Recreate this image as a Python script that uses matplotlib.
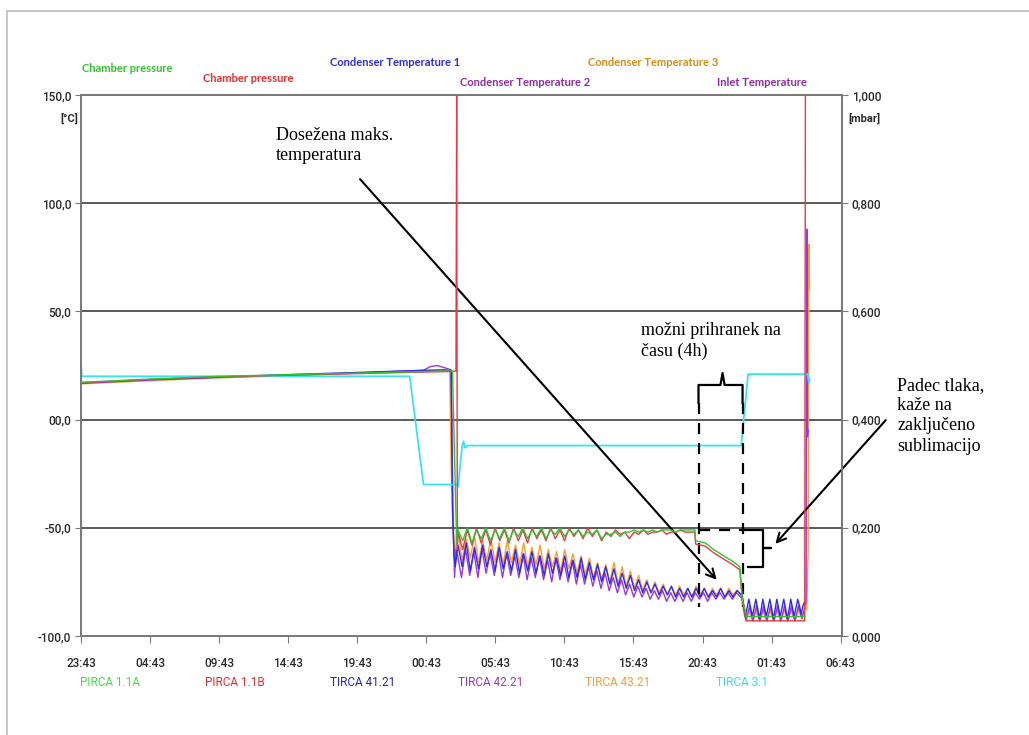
import numpy as np
import matplotlib
matplotlib.use("Agg")
import matplotlib.pyplot as plt
from matplotlib.lines import Line2D

# time axis: hours since 23:43 on day 1
tick_hours = [0, 5, 10, 15, 20, 25, 30, 35, 40, 45, 50, 55]
tick_labels = ["23:43", "04:43", "09:43", "14:43", "19:43", "00:43",
               "05:43", "10:43", "15:43", "20:43", "01:43", "06:43"]

# --- chamber pressure (mbar), right axis ---
red_a_t = [0, 5, 10, 15, 20, 25, 26.9, 27.15, 27.2, 27.25]
red_a_v = [0.468, 0.474, 0.479, 0.482, 0.485, 0.488, 0.489, 0.49, 1.0, 0.16]
red_b = [0.192, 0.160, 0.196, 0.168, 0.200, 0.172, 0.196, 0.168, 0.200, 0.176, 0.196, 0.172, 0.200,
         0.176, 0.196, 0.172, 0.200, 0.180, 0.196, 0.176, 0.200, 0.180, 0.196, 0.176, 0.200, 0.184,
         0.196, 0.180, 0.200, 0.184, 0.196, 0.176, 0.192, 0.184, 0.196, 0.188, 0.192, 0.180, 0.192,
         0.188, 0.196, 0.188, 0.192, 0.192, 0.196, 0.188, 0.192, 0.192, 0.196, 0.192, 0.192, 0.192]
red_c_t = [44.45, 44.5, 45.2, 45.8, 46.3, 46.8, 47.3, 47.7, 47.9, 48.2, 52.4, 52.45]
red_c_v = [0.190, 0.170, 0.166, 0.154, 0.146, 0.138, 0.130, 0.122, 0.060, 0.028, 0.028, 1.0]

green_a_t = [0, 5, 10, 15, 20, 25, 26.9, 27.2]
green_a_v = [0.469, 0.475, 0.480, 0.483, 0.486, 0.489, 0.490, 0.17]
green_b = [0.196, 0.176, 0.200, 0.172, 0.196, 0.180, 0.200, 0.176, 0.196, 0.180, 0.200, 0.176, 0.196,
           0.184, 0.200, 0.180, 0.196, 0.184, 0.200, 0.180, 0.196, 0.188, 0.200, 0.184, 0.196, 0.188,
           0.196, 0.184, 0.192, 0.188, 0.196, 0.180, 0.188, 0.188, 0.192, 0.184, 0.192, 0.192, 0.196,
           0.192, 0.196, 0.192, 0.196, 0.192, 0.196, 0.196, 0.196, 0.192, 0.196, 0.196, 0.196, 0.196]
green_c_t = [44.45, 44.5, 45.2, 45.8, 46.3, 46.8, 47.3, 47.7, 47.9, 48.2, 52.4]
green_c_v = [0.196, 0.176, 0.172, 0.160, 0.152, 0.144, 0.136, 0.128, 0.066, 0.036, 0.036]

# --- temperatures (deg C), left axis ---
blue_a_t = [0, 5, 10, 15, 20, 25, 26.3, 26.8, 26.9, 27.0, 27.1]
blue_a_v = [17, 18.5, 19.7, 20.8, 21.8, 22.8, 23, 22.5, -40, -62, -68]
blue_b = [-58, -68, -57, -70, -59, -69, -58, -68, -60, -70, -59, -69, -61, -70, -60, -71, -62, -70,
          -61, -71, -63, -72, -62, -71, -64, -72, -63, -73, -65, -73, -64, -74, -66, -74, -67, -75,
          -68, -76, -69, -77, -71, -78, -72, -79, -74, -80, -75, -80, -76, -81, -77, -81, -77, -82,
          -78, -82, -78, -82, -78, -82, -78, -82, -79, -82, -78, -82, -79, -82, -79, -81]
blue_c = [-80, -86, -91, -87, -83, -87, -91, -87, -83, -87, -92, -88, -83, -87, -91, -87, -83, -87,
          -92, -88, -83, -87, -91, -87, -83, -87, -92, -88, -83, -87, -91, -87, -83, -86, -90, -86, -84]

purple_a_t = [0, 5, 10, 15, 20, 24.8, 25.3, 25.8, 26.3, 26.8, 26.95, 27.05, 27.15]
purple_a_v = [16.8, 18.3, 19.5, 20.5, 21.5, 22.8, 24.5, 25, 24, 23, -50, -73, -60]
purple_b = [-62, -73, -60, -72, -61, -73, -60, -71, -62, -72, -61, -73, -62, -72, -63, -73, -62, -74,
            -64, -73, -63, -74, -65, -75, -64, -74, -66, -75, -65, -76, -67, -76, -68, -77, -70, -78,
            -71, -79, -73, -80, -74, -81, -76, -82, -77, -82, -78, -83, -79, -83, -79, -84, -80, -84,
            -80, -84, -80, -84, -80, -83, -80, -84, -80, -83, -80, -83, -80, -83, -80, -82]
purple_c = [-83, -88, -93, -90, -86, -90, -93, -90, -86, -90, -93, -90, -86, -90, -93, -90, -86, -90,
            -93, -90, -86, -90, -93, -90, -86, -90, -93, -90, -86, -90, -93, -90, -86, -89, -92, -89, -85]
purple_end_t = [52.5, 52.55, 52.6, 52.65]
purple_end_v = [-85, 88, -8, -5]

orange_a_t = [0, 5, 10, 15, 20, 25, 26.7, 26.8, 26.9, 27.0, 27.1, 27.2]
orange_a_v = [16.5, 18, 19.3, 20.4, 21.5, 22.5, 22.8, -20, -45, -55, -65, -52]
orange_b = [-52, -65, -55, -64, -54, -66, -56, -65, -55, -66, -57, -67, -56, -66, -58, -67, -57, -68,
            -59, -67, -58, -69, -60, -68, -61, -70, -60, -69, -62, -71, -63, -72, -64, -73, -66, -74,
            -67, -75, -66, -76, -68, -77, -70, -78, -72, -79, -74, -80, -75, -80, -76, -81, -77, -81,
            -77, -81, -78, -82, -77, -81, -78, -82, -78, -81, -78, -82, -78, -81, -79, -81]
orange_c = [-82, -89, -92, -90, -88, -91, -93, -90, -88, -91, -93, -90, -88, -91, -93, -90, -88, -91,
            -93, -90, -88, -91, -93, -90, -88, -91, -93, -90, -88, -91, -93, -90, -88, -90, -92, -89, -87]
orange_end_t = [52.55, 52.65, 52.7, 52.75]
orange_end_v = [-88, -60, 81, 60]

cyan_t = [0, 0.05, 23.8, 24.8, 27.2, 27.3, 27.6, 27.7, 27.8, 28.0, 47.8, 48.3, 52.6, 52.7, 52.75]
cyan_v = [27, 20, 20, -30, -30, -31, -12, -10, -13, -12, -12, 21, 21, 17, 19]


def series(a_t, a_v, b, b_range, c, c_range, end_t=(), end_v=()):
    t = list(a_t) + list(np.linspace(*b_range, len(b))) + list(np.linspace(*c_range, len(c))) + list(end_t)
    v = list(a_v) + list(b) + list(c) + list(end_v)
    return t, v


fig = plt.figure(figsize=(10.29, 7.35), dpi=100)
ax = fig.add_axes([81 / 1029, 99 / 735, 761 / 1029, 541 / 735])
ax2 = ax.twinx()

tick_font = "Roboto"
grid_c = "#5a5a5a"

ax.set_xlim(0, 55.1)
ax.set_ylim(-100, 150)
ax2.set_ylim(0, 1)

for yv in [-50, 0, 50, 100]:
    ax.axhline(yv, color=grid_c, lw=1.4, zorder=0)

# temperature lines
t, v = series(orange_a_t, orange_a_v, orange_b, (27.3, 47.8), orange_c, (47.85, 52.45), orange_end_t, orange_end_v)
ax.plot(t, v, color="#ff9a2e", lw=1.0)
t, v = series(purple_a_t, purple_a_v, purple_b, (27.25, 47.75), purple_c, (47.9, 52.45), purple_end_t, purple_end_v)
ax.plot(t, v, color="#9b35e0", lw=1.0)
t, v = series(blue_a_t, blue_a_v, blue_b, (27.3, 47.8), blue_c, (47.85, 52.4))
ax.plot(t, v, color="#2b2bef", lw=1.0)
ax.plot(cyan_t, cyan_v, color="#38e4ec", lw=1.3)

# pressure lines
red_t = red_a_t + list(np.linspace(27.3, 44.4, len(red_b))) + red_c_t
red_v = red_a_v + red_b + red_c_v
ax2.plot(red_t, red_v, color="#e63a44", lw=1.0)
green_t = green_a_t + list(np.linspace(27.3, 44.4, len(green_b))) + green_c_t
green_v = green_a_v + green_b + green_c_v
ax2.plot(green_t, green_v, color="#2fc42f", lw=1.0)

# axes styling
for a in (ax, ax2):
    for s in a.spines.values():
        s.set_color("#7a7a7a")
        s.set_linewidth(1.4)
ax.set_xticks(tick_hours)
ax.set_xticklabels(tick_labels)
ax.set_yticks([-100, -50, 0, 50, 100, 150])
ax.set_yticklabels(["-100,0", "-50,0", "00,0", "50,0", "100,0", "150,0"])
ax2.set_yticks([0, 0.2, 0.4, 0.6, 0.8, 1.0])
ax2.set_yticklabels(["0,000", "0,200", "0,400", "0,600", "0,800", "1,000"])
ax.tick_params(axis="x", length=5, color="#7a7a7a", pad=10, labelsize=8.5, labelcolor="#2a2a2a")
ax.tick_params(axis="y", length=4, color="#7a7a7a", pad=3, labelsize=8.5, labelcolor="#2a2a2a")
ax2.tick_params(axis="y", length=4, color="#7a7a7a", pad=3, labelsize=8.5, labelcolor="#2a2a2a")
for lab in ax.get_xticklabels() + ax.get_yticklabels() + ax2.get_yticklabels():
    lab.set_family(tick_font)
    lab.set_fontweight("medium")


def px(x, y):
    return x / 1029, 1 - y / 735


fig.text(*px(78, 118), "[°C]", ha="right", va="center", fontsize=8, color="#2a2a2a",
         family=tick_font, fontweight="bold")
fig.text(*px(848, 118), "[mbar]", ha="left", va="center", fontsize=8, color="#2a2a2a",
         family=tick_font, fontweight="bold")

# top labels
top_labels = [(82, 68, "Chamber pressure", "#2fc42f"),
              (203, 78, "Chamber pressure", "#ee2b2b"),
              (330, 63, "Condenser Temperature 1", "#2b2bef"),
              (460, 83, "Condenser Temperature 2", "#8e2aa8"),
              (588, 62, "Condenser Temperature 3", "#d68c12"),
              (717, 83, "Inlet Temperature", "#8e2aa8")]
for x, y, s, c in top_labels:
    fig.text(*px(x, y), s, ha="left", va="center", fontsize=8, color=c, family="Lato", fontweight="bold")

# bottom labels
bottom_labels = [(80, "PIRCA 1.1A", "#3fe03f"), (205, "PIRCA 1.1B", "#ee2b2b"),
                 (330, "TIRCA 41.21", "#2222cc"), (458, "TIRCA 42.21", "#9933cc"),
                 (585, "TIRCA 43.21", "#ff9933"), (716, "TIRCA 3.1", "#38e0e8")]
for x, s, c in bottom_labels:
    fig.text(*px(x, 682), s, ha="left", va="center", fontsize=8.5, color=c, family=tick_font)

# annotations
serif = "Liberation Serif"
ax.text(14.13, 135.2, "Dosežena maks.\ntemperatura", fontsize=13, family=serif, va="top",
        linespacing=1.25)
ax.annotate("", xy=(46.16, -75.0), xytext=(20.07, 112.1),
            arrowprops=dict(arrowstyle="->", lw=1.5, color="black", mutation_scale=16))
ax.text(40.58, 45.1, "možni prihranek na\nčasu (4h)", fontsize=13, family=serif, va="top",
        linespacing=1.25)
ax.text(59.1, 19.7, "Padec tlaka,\nkaže na\nzaključeno\nsublimacijo", fontsize=13, family=serif,
        va="top", linespacing=1.25)
ax.annotate("", xy=(50.14, -58.4), xytext=(58.4, 0.7), annotation_clip=False,
            arrowprops=dict(arrowstyle="->", lw=1.5, color="black", mutation_scale=16))

# dashed box and braces
ax.plot([44.71, 44.71], [7.7, -86.6], color="black", lw=1.6, ls=(0, (5, 4)))
ax.plot([47.9, 47.9], [7.7, -86.6], color="black", lw=1.6, ls=(0, (5, 4)))
ax.plot([44.71, 47.9], [-51.0, -51.0], color="black", lw=1.6, ls=(0, (5, 4)))
ax.plot([44.71, 44.71, 46.3, 46.45, 46.6, 47.9, 47.9],
        [7.7, 16.0, 16.0, 21.5, 16.0, 16.0, 7.7], color="black", lw=1.6)
ax.plot([47.9, 49.35, 49.35, 49.93, 49.35, 49.35, 48.33],
        [-51.0, -51.0, -59.3, -59.3, -59.3, -68.1, -68.1], color="black", lw=1.6)

# outer frame
fig.add_artist(Line2D([7 / 1029, 7 / 1029, 1], [0, 1 - 11 / 735, 1 - 11 / 735],
                      transform=fig.transFigure, color="#c8c8c8", lw=1.5))

fig.savefig("out.png", dpi=100)
